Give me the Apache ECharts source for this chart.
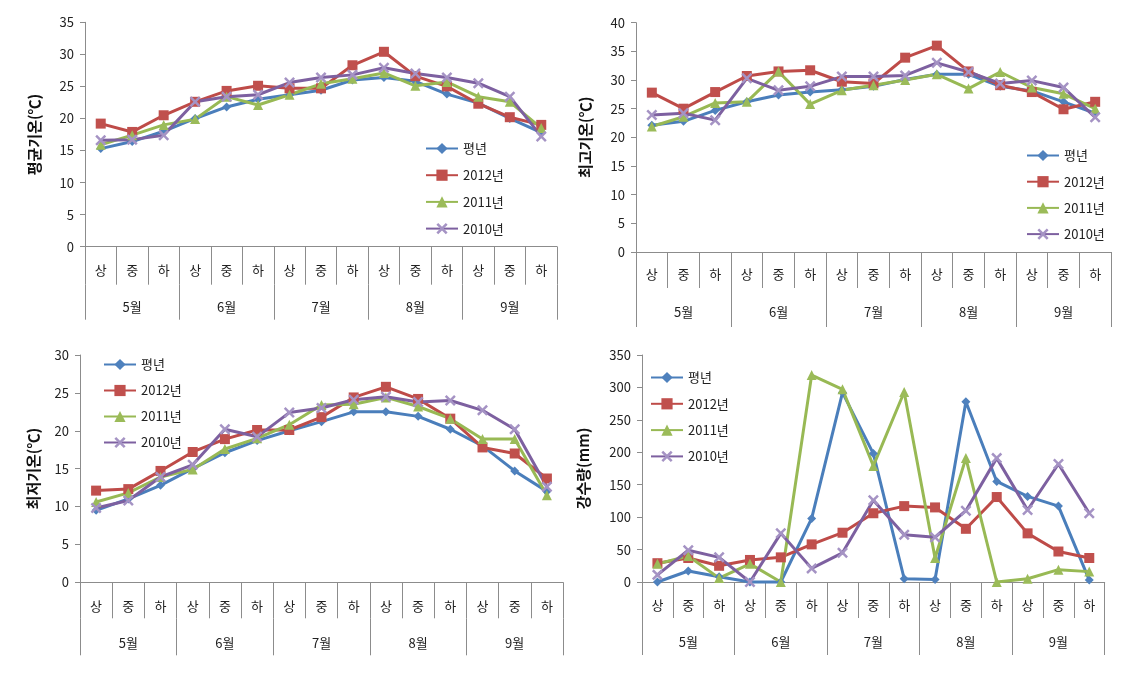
<!DOCTYPE html>
<html>
<head>
<meta charset="utf-8">
<script src="https://cdn.jsdelivr.net/npm/echarts@6/dist/echarts.min.js"></script>
<style>
html,body{margin:0;padding:0;background:#fff;}
#chart{width:1137px;height:673px;}
</style>
</head>
<body>
<div id="chart"></div>
<script>
// ---- data ----
const subCats = ['상','중','하','상','중','하','상','중','하','상','중','하','상','중','하'];
const months = ['5월','6월','7월','8월','9월'];
const seriesNames = ['평년','2012년','2011년','2010년'];

// 평균기온 (℃)
const avgNormal = [15.3,16.4,18.0,20.0,21.8,23.0,23.7,24.4,26.0,26.4,25.8,23.8,22.4,20.0,17.8];
const avg2012   = [19.2,17.9,20.5,22.6,24.3,25.1,24.7,24.7,28.3,30.4,26.6,25.0,22.3,20.2,19.0];
const avg2011   = [15.9,17.4,19.0,19.9,23.4,22.1,23.7,25.4,26.2,27.1,25.1,25.7,23.4,22.6,18.5];
const avg2010   = [16.6,16.7,17.4,22.6,23.4,23.7,25.6,26.4,26.8,27.9,27.0,26.4,25.5,23.4,17.2];

// 최고기온 (℃)
const maxNormal = [22.1,22.8,24.7,26.2,27.4,27.9,28.3,28.9,30.1,31.0,31.0,28.9,28.1,26.2,24.2];
const max2012   = [27.8,25.0,27.9,30.7,31.5,31.7,29.7,29.4,33.9,36.0,31.5,29.1,27.9,24.9,26.2];
const max2011   = [21.9,23.6,26.0,26.2,31.5,25.8,28.2,29.1,30.0,31.0,28.5,31.4,28.7,27.6,25.0];
const max2010   = [23.9,24.2,23.0,30.3,28.2,28.9,30.6,30.6,30.8,33.0,31.4,29.4,29.9,28.7,23.5];

// 최저기온 (℃)
const minNormal = [9.5,11.0,12.8,15.0,17.1,18.7,20.0,21.2,22.5,22.5,21.9,20.2,18.0,14.7,12.0];
const min2012   = [12.1,12.3,14.7,17.2,18.9,20.1,20.1,21.8,24.4,25.8,24.2,21.6,17.8,17.0,13.7];
const min2011   = [10.6,11.8,13.9,14.9,17.6,19.0,20.8,23.4,23.5,24.4,23.2,21.6,18.9,18.9,11.5];
const min2010   = [9.8,10.8,13.9,15.5,20.2,19.2,22.4,23.0,24.1,24.5,23.8,24.0,22.7,20.2,12.6];

// 강수량 (mm)
const rainNormal = [0,17,8,0,0,98,292,198,5,4,278,155,132,117,3];
const rain2012   = [29,37,25,34,38,58,76,106,117,115,82,131,75,47,37];
const rain2011   = [28,40,6,28,0,319,297,179,293,37,191,0,5,19,16];
const rain2010   = [11,49,38,0,75,21,45,126,73,69,110,191,111,182,106];

// y-axis ranges / names
const yNames = ['평균기온(℃)','최고기온(℃)','최저기온(℃)','강수량(mm)'];
const yMax = [35,40,30,350];
const yInterval = [5,5,5,50];

// ---- styles ----
const FONT = '"Noto Sans CJK KR","Noto Sans",sans-serif';
const lineColors = ['#4A7EBB','#BE4B48','#98B954','#7D60A0'];
const markColors = ['#4F81BD','#C0504D','#9BBB59','#A593C4'];
const xPath = 'path://M0,1.6L1.6,0L5,3.4L8.4,0L10,1.6L6.6,5L10,8.4L8.4,10L5,6.6L1.6,10L0,8.4L3.4,5Z';
const symbols = ['diamond','rect','triangle',xPath];
const symbolSizes = [9,10,10,11];
const axisGray = '#8c8c8c';

const panelData = [
  [avgNormal,avg2012,avg2011,avg2010],
  [maxNormal,max2012,max2011,max2010],
  [minNormal,min2012,min2011,min2010],
  [rainNormal,rain2012,rain2011,rain2010]
];

// layout per panel (pixel boxes)
const layout = [
  {left:85, right:580, top:22.3, bottom:426.3, nameGap:43, subTick:38, subMargin:17, monTick:35, monMargin:16, legLeft:420, legTop:137, legGap:13.7},
  {left:636, right:26, top:22.7, bottom:421, nameGap:43, subTick:36, subMargin:16, monTick:39, monMargin:18, legLeft:1021, legTop:144, legGap:13.2},
  {left:80, right:574, top:355, bottom:90.7, nameGap:39, subTick:36, subMargin:17, monTick:37, monMargin:18, legLeft:98, legTop:353, legGap:13},
  {left:642, right:32.3, top:355, bottom:91, nameGap:51, subTick:36, subMargin:17, monTick:37, monMargin:18, legLeft:645, legTop:366, legGap:13.3}
];

const grid = [], xAxis = [], yAxis = [], series = [], legend = [];
layout.forEach((L, p) => {
  grid.push({left:L.left, right:L.right, top:L.top, bottom:L.bottom, containLabel:false});
  xAxis.push({
    type:'category', gridIndex:p, data:subCats, boundaryGap:true, position:'bottom',
    axisLine:{show:true, lineStyle:{color:axisGray, width:1}},
    axisTick:{show:true, interval:0, length:L.subTick, lineStyle:{color:axisGray}},
    axisLabel:{interval:0, margin:L.subMargin, fontSize:13, color:'#222', fontFamily:FONT}
  });
  xAxis.push({
    type:'category', gridIndex:p, data:months, boundaryGap:true, position:'bottom', offset:L.subTick,
    axisLine:{show:false},
    axisTick:{show:true, interval:0, length:L.monTick, lineStyle:{color:axisGray}},
    axisLabel:{interval:0, margin:L.monMargin, fontSize:13, color:'#222', fontFamily:FONT}
  });
  yAxis.push({
    type:'value', gridIndex:p, min:0, max:yMax[p], interval:yInterval[p],
    name:yNames[p], nameLocation:'middle', nameGap:L.nameGap, nameRotate:90,
    nameTextStyle:{fontSize:15, fontWeight:'bold', color:'#111', fontFamily:FONT},
    axisLine:{show:true, lineStyle:{color:axisGray, width:1}},
    axisTick:{show:true, length:5, lineStyle:{color:axisGray}},
    splitLine:{show:false},
    axisLabel:{margin:11, fontSize:13, color:'#222', fontFamily:FONT}
  });
  panelData[p].forEach((arr, s) => {
    series.push({
      type:'line', name:seriesNames[s], xAxisIndex:p*2, yAxisIndex:p, data:arr,
      symbol:symbols[s], symbolSize:symbolSizes[s], showAllSymbol:true,
      lineStyle:{color:lineColors[s], width:3},
      itemStyle:{color:markColors[s]},
      clip:false, animation:false
    });
  });
  legend.push({
    orient:'vertical', left:L.legLeft, top:L.legTop, itemWidth:32, itemHeight:14, itemGap:L.legGap,
    data:seriesNames, selectedMode:false,
    textStyle:{fontSize:13, color:'#222', fontFamily:FONT}
  });
});

const chart = echarts.init(document.getElementById('chart'), null, {renderer:'canvas'});
chart.setOption({animation:false, backgroundColor:'#fff', grid, xAxis, yAxis, series, legend});
</script>
</body>
</html>
